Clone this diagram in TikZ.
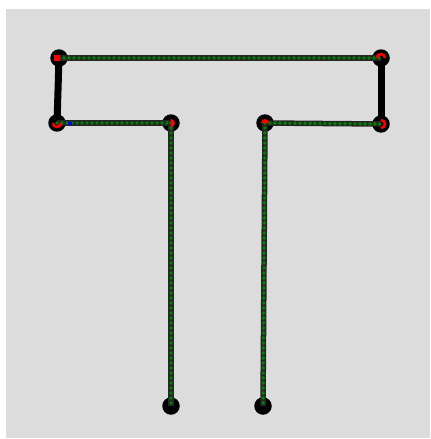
\documentclass[tikz,border=0pt]{standalone}
\usetikzlibrary{
    arrows.meta,   % For arrow tips
    calc,          % For coordinate calculations
    positioning    % For relative placement
}
\definecolor{panel}{RGB}{220,220,220}
\definecolor{dotgreen}{RGB}{0,128,0}

\begin{document}
\begin{tikzpicture}[
    x=0.02cm, y=-0.02cm, % one unit is one pixel, y pointing down
    joint/.style={circle, fill=black, inner sep=0pt, minimum size=0.35cm}, % Style for joints
    bar/.style={line width=0.14cm, black}, % Thick black link
    wire/.style={ % Black line with a row of green dots on it
        line width=0.11cm, black!85,
        postaction={draw=dotgreen, line width=0.078cm, line cap=round,
                    dash pattern=on 0pt off 0.1cm}
    },
    marker/.style={fill=red}, % Red marks inside joints
    markarc/.style={draw=red, line width=0.05cm}
]

    % Background panel
    \useasboundingbox (0,0) rectangle (430,439);
    \fill[panel] (6,9) rectangle (430,438);

    % Joints of the T
    \node[joint] (tl) at (59,58) {};   % top left
    \node[joint] (ml) at (57,123) {};  % left middle
    \node[joint] (il) at (171,123) {}; % inner left
    \node[joint] (bl) at (171,406) {}; % bottom left
    \node[joint] (ir) at (265,123) {}; % inner right
    \node[joint] (br) at (263,406) {}; % bottom right
    \node[joint] (mr) at (381,124) {}; % right middle
    \node[joint] (tr) at (381,58) {};  % top right

    % Thick links
    \draw[bar] (tl.center) -- (ml.center);
    \draw[bar] (tr.center) -- (mr.center);

    % Dotted links
    \draw[wire] (tl.center) -- (tr.center);
    \draw[wire] (ml.center) -- (il.center);
    \draw[wire] (il.center) -- (bl.center);
    \draw[wire] (ir.center) -- (br.center);
    \draw[wire] (ir.center) -- (mr.center);

    % Red marks (angles turn the other way, y points down)
    \fill[marker] ($(tl.center)+(-5,-3)$) rectangle ($(tl.center)+(1,3)$);
    \draw[markarc] ($(ml.center)+(-4,0)$) arc (180:0:4);
    \fill[marker] ($(il.center)+(0,-4)$) arc (-90:90:4) -- cycle;
    \fill[marker] ($(ir.center)+(-4,0)$) arc (180:360:4) -- cycle;
    \draw[markarc] ($(mr.center)+(0,-4)$) arc (-90:90:4);
    \draw[markarc] ($(tr.center)+(-4,0)$) arc (180:360:4);
    \fill[blue] ($(ml.center)+(11,-1.5)$) rectangle ($(ml.center)+(15,1.5)$); % blue tick

\end{tikzpicture}
\end{document}
